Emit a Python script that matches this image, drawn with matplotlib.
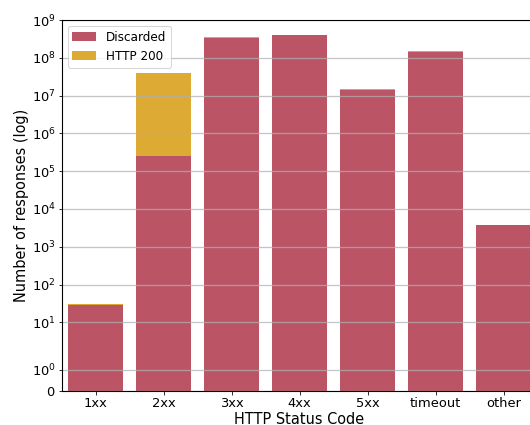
import matplotlib
matplotlib.use("Agg")
import matplotlib.pyplot as plt
import numpy as np
from matplotlib.ticker import NullLocator, FixedLocator

categories = ["1xx", "2xx", "3xx", "4xx", "5xx", "timeout", "other"]
discarded = [29, 2.5e5, 3.24e8, 4.04e8, 1.38e7, 1.41e8, 3690]
http200 = [2, 3.87e7, 2.2e7, 6.0e6, 9.0e5, 8.0e6, 150]

red = "#bb5566"
yellow = "#ddaa33"

DPI = 72
fig = plt.figure(figsize=(530 / DPI, 425 / DPI), dpi=DPI)
ax = fig.add_axes([61.5 / 530, 1 - 390.7 / 425, 476 / 530, (390.7 - 20) / 425])

x = np.arange(len(categories))
ax.bar(x, discarded, width=0.8, color=red, label="Discarded", zorder=2)
ax.bar(x, http200, width=0.8, bottom=discarded, color=yellow, label="HTTP 200", zorder=2)

ax.set_yscale("symlog", linthresh=2, linscale=1)
ax.set_ylim(0, 1e9)
ax.set_xlim(-0.5, len(categories) - 0.5)
ax.yaxis.set_major_locator(FixedLocator([0] + [10.0 ** i for i in range(10)]))
ax.yaxis.set_minor_locator(NullLocator())

ax.set_xticks(x)
ax.set_xticklabels(categories)
ax.tick_params(labelsize=13, pad=2.5)
for s in ax.spines.values():
    s.set_linewidth(1.1)
    s.set_zorder(4)
ax.set_axisbelow(False)
ax.grid(axis="y", color="#b0b0b0", alpha=0.75, linewidth=1.3)
ax.set_xlabel("HTTP Status Code", fontsize=14.5, labelpad=2)
ax.set_ylabel("Number of responses (log)", fontsize=14.5, labelpad=3)
ax.legend(loc="upper left", fontsize=12)

fig.savefig("out.png", dpi=DPI)
